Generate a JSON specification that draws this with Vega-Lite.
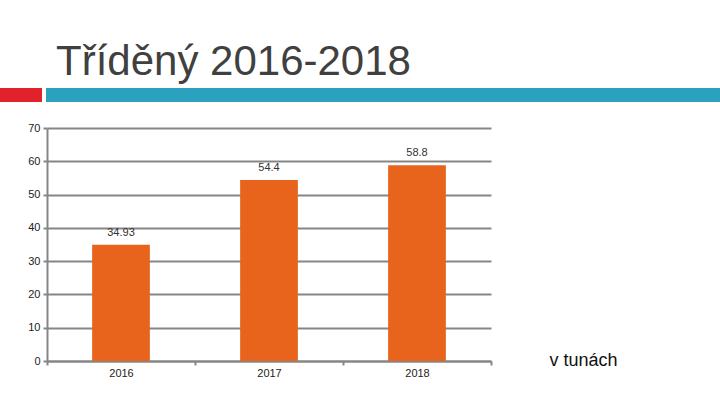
{
  "$schema": "https://vega.github.io/schema/vega-lite/v6.json",
  "background": "white",
  "padding": {"top": 41, "left": 0, "right": 0, "bottom": 0},
  "title": {
    "text": "Tříděný 2016-2018",
    "anchor": "start",
    "dx": 56,
    "fontSize": 42,
    "font": "Liberation Sans",
    "fontWeight": "normal",
    "color": "#404040",
    "baseline": "top",
    "offset": 4,
    "frame": "group"
  },
  "config": {"font": "Liberation Sans"},
  "spacing": 20,
  "vconcat": [
    {
      "hconcat": [
        {
          "width": 42,
          "height": 14,
          "view": {"fill": "#E1222A", "stroke": null},
          "data": {"values": [{}]},
          "mark": {"type": "text", "text": ""}
        },
        {
          "width": 674,
          "height": 14,
          "view": {"fill": "#2CA1BE", "stroke": null},
          "data": {"values": [{}]},
          "mark": {"type": "text", "text": ""}
        }
      ],
      "spacing": 4
    },
    {
      "spacing": 0,
      "hconcat": [
        {
          "width": 27,
          "height": 10,
          "view": {"stroke": null},
          "data": {"values": [{}]},
          "mark": {"type": "text", "text": ""}
        },
        {
          "width": 444,
          "height": 233,
          "view": {"stroke": null},
          "data": {
            "values": [
              {"year": "2016", "value": 34.93},
              {"year": "2017", "value": 54.4},
              {"year": "2018", "value": 58.8}
            ]
          },
          "encoding": {
            "x": {
              "field": "year",
              "type": "nominal",
              "scale": {"paddingInner": 0, "paddingOuter": 0},
              "axis": {
                "labelAngle": 0,
                "tickBand": "extent",
                "tickSize": 4,
                "tickColor": "#868686",
                "tickWidth": 2,
                "domainColor": "#868686",
                "domainWidth": 2,
                "labelFontSize": 11,
                "labelColor": "#222222",
                "labelPadding": 2,
                "title": "v tunách",
                "titleX": 502,
                "titleY": 4,
                "titleAlign": "left",
                "titleBaseline": "alphabetic",
                "titleFontSize": 18,
                "titleFontWeight": "normal",
                "titleColor": "#111111"
              }
            },
            "y": {
              "field": "value",
              "type": "quantitative",
              "scale": {"domain": [0, 70], "nice": false},
              "axis": {
                "values": [0, 10, 20, 30, 40, 50, 60, 70],
                "title": null,
                "grid": true,
                "gridColor": "#868686",
                "gridWidth": 2,
                "domainColor": "#868686",
                "domainWidth": 2,
                "tickColor": "#868686",
                "tickWidth": 2,
                "tickSize": 4,
                "labelPadding": 3,
                "labelFontSize": 11,
                "labelColor": "#222222",
                "minExtent": 20,
                "maxExtent": 20
              }
            }
          },
          "layer": [
            {"mark": {"type": "bar", "color": "#E8641C", "width": {"band": 0.39}}},
            {
              "mark": {"type": "text", "dy": -12, "fontSize": 11, "color": "#333333"},
              "encoding": {"text": {"field": "value", "type": "quantitative"}}
            }
          ]
        }
      ]
    }
  ]
}
